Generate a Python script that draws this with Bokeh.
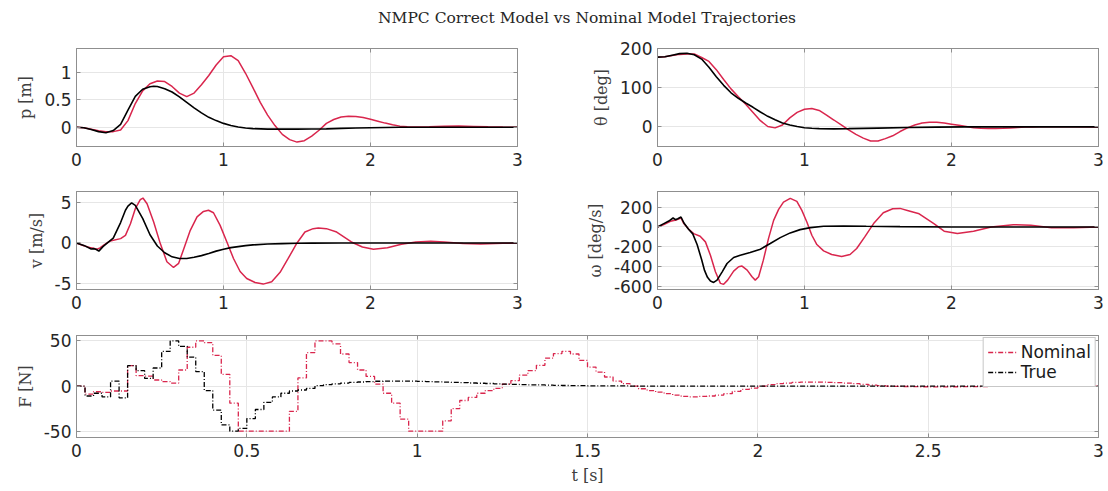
from bokeh.plotting import figure
from bokeh.models import Range1d, FixedTicker, NumeralTickFormatter, Div, LinearAxis, CustomJSTickFormatter
from bokeh.layouts import column, row
from bokeh.embed import file_html
from bokeh.resources import INLINE

RED = "#D9264D"
BLACK = "#000000"
GRAY = "#8f8f8f"
GRID = "#e6e6e6"

TITLE = "NMPC Correct Model vs Nominal Model Trajectories"

# ---- position p [m] ----
p_true_t = [0, 0.05, 0.1, 0.15, 0.2, 0.25, 0.3, 0.35, 0.4, 0.45, 0.5, 0.525, 0.55, 0.6, 0.65, 0.7, 0.75, 0.8,
            0.85, 0.9, 0.95, 1.0, 1.05, 1.1, 1.15, 1.2, 1.3, 1.4, 1.5, 1.6, 1.7, 1.8, 1.9, 2.0, 2.1, 2.2, 2.5, 3.0]
p_true = [0, -0.01, -0.04, -0.08, -0.1, -0.06, 0.05, 0.31, 0.56, 0.69, 0.735, 0.745, 0.74, 0.70, 0.64, 0.55,
          0.45, 0.35, 0.26, 0.18, 0.12, 0.07, 0.03, 0.005, -0.015, -0.025, -0.035, -0.035, -0.035, -0.033,
          -0.03, -0.02, -0.015, -0.01, -0.005, 0, 0, 0]
p_nom_t = [0, 0.05, 0.1, 0.15, 0.2, 0.25, 0.3, 0.35, 0.4, 0.45, 0.5, 0.55, 0.6, 0.65, 0.7, 0.75, 0.8, 0.85,
           0.9, 0.95, 1.0, 1.05, 1.1, 1.15, 1.2, 1.25, 1.3, 1.35, 1.4, 1.45, 1.5, 1.55, 1.6, 1.65, 1.7, 1.75,
           1.8, 1.85, 1.9, 1.95, 2.0, 2.05, 2.1, 2.15, 2.2, 2.25, 2.3, 2.4, 2.5, 2.6, 2.7, 2.8, 2.9, 3.0]
p_nom = [0, -0.01, -0.035, -0.065, -0.08, -0.08, -0.05, 0.12, 0.43, 0.66, 0.79, 0.84, 0.83, 0.74, 0.62,
         0.555, 0.62, 0.77, 0.94, 1.13, 1.28, 1.30, 1.21, 0.98, 0.72, 0.45, 0.22, 0.03, -0.13, -0.225, -0.27,
         -0.245, -0.16, -0.055, 0.07, 0.14, 0.185, 0.2, 0.195, 0.175, 0.145, 0.11, 0.075, 0.045, 0.02, 0.008,
         0.004, 0.01, 0.02, 0.022, 0.015, 0.007, 0.002, 0]

# ---- angle theta [deg] ----
th_true_t = [0, 0.05, 0.1, 0.15, 0.2, 0.25, 0.3, 0.35, 0.4, 0.45, 0.5, 0.55, 0.6, 0.65, 0.7, 0.75, 0.8, 0.85,
             0.9, 0.95, 1.0, 1.05, 1.1, 1.2, 1.3, 1.5, 1.7, 1.9, 2.1, 2.5, 3.0]
th_true = [178, 179, 183, 187, 188, 184, 173, 152, 128, 106, 87, 73, 61, 50, 38, 27, 18, 10, 5, 1, -2, -3.5,
           -4.5, -5, -4.5, -3, -1.5, -0.5, 0, 0, 0]
th_nom_t = [0, 0.05, 0.1, 0.15, 0.2, 0.25, 0.3, 0.35, 0.4, 0.45, 0.5, 0.55, 0.6, 0.65, 0.7, 0.75, 0.8, 0.85,
            0.9, 0.95, 1.0, 1.05, 1.1, 1.15, 1.2, 1.25, 1.3, 1.35, 1.4, 1.45, 1.5, 1.55, 1.6, 1.65, 1.7, 1.75,
            1.8, 1.85, 1.9, 1.95, 2.0, 2.05, 2.1, 2.15, 2.2, 2.25, 2.3, 2.35, 2.4, 2.45, 2.5, 2.55, 2.6, 2.7,
            2.8, 3.0]
th_nom = [178, 179, 182, 185, 186, 186, 177, 167, 146, 121, 97, 77, 58, 37, 16, 1, -2.5, 5, 23, 37, 45, 47,
          42, 30, 17.6, 5, -7.6, -19, -28.6, -36, -36, -30, -22.7, -11.8, -2.5, 5, 10, 12, 12, 10, 7, 4, 1,
          -2, -3.5, -4, -4, -3.5, -2.5, -1.5, -0.5, 0, 0.5, 0.5, 0.3, 0]

# ---- velocity v [m/s] ----
v_true_t = [0, 0.05, 0.1, 0.12, 0.135, 0.152, 0.18, 0.2, 0.25, 0.3, 0.333, 0.35, 0.375, 0.4, 0.45, 0.5, 0.55,
            0.6, 0.65, 0.7, 0.75, 0.8, 0.85, 0.9, 0.95, 1.0, 1.05, 1.1, 1.15, 1.2, 1.3, 1.4, 1.5, 1.6, 1.8,
            2.0, 3.0]
v_true = [0, -0.3, -0.75, -0.7, -0.8, -1.0, -0.45, -0.15, 0.6, 2.5, 4.0, 4.5, 4.9, 4.6, 3.0, 1.0, -0.37,
          -1.2, -1.7, -1.9, -1.9, -1.75, -1.55, -1.3, -1.0, -0.77, -0.57, -0.45, -0.33, -0.24, -0.12, -0.08,
          -0.04, -0.02, -0.01, 0, 0]
v_nom_t = [0, 0.05, 0.1, 0.14, 0.16, 0.19, 0.23, 0.3, 0.333, 0.367, 0.4, 0.434, 0.452, 0.48, 0.525, 0.57,
           0.615, 0.66, 0.695, 0.73, 0.774, 0.82, 0.864, 0.898, 0.932, 0.977, 1.023, 1.068, 1.113, 1.158,
           1.215, 1.27, 1.328, 1.385, 1.44, 1.5, 1.554, 1.61, 1.645, 1.7, 1.77, 1.87, 1.945, 2.02, 2.115,
           2.21, 2.31, 2.41, 2.5, 2.63, 2.75, 2.9, 3.0]
v_nom = [0, -0.35, -0.6, -0.77, -0.6, -0.2, 0.25, 0.53, 0.93, 2.36, 4.2, 5.3, 5.5, 4.8, 2.56, -0.08, -2.3,
         -3.0, -2.5, -0.7, 1.55, 3.2, 3.86, 4.0, 3.7, 2.15, 0.12, -1.9, -3.5, -4.35, -4.84, -5.04, -4.75, -3.6,
         -1.9, 0, 1.34, 1.75, 1.83, 1.75, 1.34, 0.12, -0.5, -0.77, -0.6, -0.16, 0.12, 0.2, 0.12, -0.08, -0.12,
         -0.05, 0]

# ---- angular rate omega [deg/s] ----
w_true_t = [0, 0.043, 0.077, 0.106, 0.122, 0.138, 0.16, 0.18, 0.21, 0.24, 0.27, 0.3, 0.32, 0.34, 0.36, 0.382,
            0.405, 0.44, 0.473, 0.518, 0.563, 0.63, 0.7, 0.767, 0.835, 0.903, 0.97, 1.04, 1.13, 1.265, 1.42,
            1.65, 2.0, 3.0]
w_true = [0, 34, 60, 91, 74, 84, 101, 40, -20, -70, -180, -330, -440, -510, -548, -561, -538, -454, -370,
          -309, -286, -259, -225, -168, -108, -60, -27, -7, 7, 10, 7, 3, 0, 0]
w_nom_t = [0, 0.043, 0.088, 0.133, 0.16, 0.179, 0.213, 0.246, 0.29, 0.326, 0.36, 0.394, 0.428, 0.45, 0.477,
           0.518, 0.552, 0.575, 0.61, 0.643, 0.665, 0.688, 0.72, 0.755, 0.79, 0.824, 0.857, 0.903, 0.948,
           0.982, 1.016, 1.05, 1.084, 1.13, 1.185, 1.253, 1.31, 1.355, 1.41, 1.47, 1.536, 1.6, 1.65, 1.706,
           1.78, 1.88, 1.95, 2.04, 2.15, 2.27, 2.42, 2.54, 2.68, 2.83, 3.0]
w_nom = [0, 24, 57, 74, 91, 34, -24, -67, -94, -151, -286, -454, -571, -581, -538, -447, -403, -396, -437,
         -504, -538, -504, -336, -118, 67, 178, 252, 289, 259, 168, 50, -84, -178, -242, -279, -299, -279,
         -218, -101, 34, 144, 185, 188, 165, 133, 33, -43, -67, -43, 0, 23, 17, -7, -7, 0]

# ---- input force F [N], zero-order hold, sample time 0.025 s ----
DT = 0.025
F_nom = [0, -9, -6.3, -7, -5.5, -5.5, 22.6, 11.5, 11, 6.7, 4.8, 3.3, 17.8, 43, 50, 48, 34, 13, -19, -50,
         -50, -50, -50, -50, -50, -28, 9, 37, 50, 50, 46.7, 35.5, 26, 17.8, 10.7, 2.2, -8, -19, -36.7, -50,
         -50, -50, -50, -38.5, -25, -16, -12.6, -8, -5, -2.6, 2.2, 6, 12, 17, 23, 31, 36, 38.5, 35.5, 28.5,
         21, 15.5, 10, 5.5, 2.6, 0, -3, -5, -6.7, -8.5, -10, -11.5, -12, -11.5, -11, -10, -8.5, -6, -3.7,
         -2.2, 0, 1.5, 2.6, 3.3, 4, 4.4, 4.4, 4.4, 4, 3.7, 3.3, 2.6, 1.8, 1, 0.5, 0, -0.3, -0.5, -0.7, -0.8,
         -0.9, -0.9, -0.9, -0.8, -0.7, -0.6, -0.5, -0.4, -0.3, -0.2, -0.1, 0, 0, 0, 0.1, 0.1, 0.1, 0.1, 0.1, 0]
F_true = [0, -11, -8, -12, 5.5, -13, 22.6, 17, 8.5, 20, 38.5, 50, 44, 32, 16, -5, -26.7, -43, -50, -47, -36,
          -26, -18, -12, -8, -5.5, -4.4, -2.6, 0.4, 1.5, 2.5, 3.3, 4.0, 4.5, 5.0, 5.3, 5.5, 5.5, 5.5, 5.4,
          5.2, 5.0, 4.7, 4.4, 4.1, 3.8, 3.4, 3.1, 2.8, 2.5, 2.2, 1.9, 1.6, 1.4, 1.2, 1.0, 0.8, 0.6, 0.5, 0.4,
          0.3, 0.2, 0.2, 0.1, 0.1] + [0] * 55
F_t = [k * DT for k in range(len(F_nom))] + [3.0]

TICK_FONT = "DejaVu Sans"
LABEL_FONT = "DejaVu Serif"


def mirror_axis(ticks):
    ax = LinearAxis(ticker=FixedTicker(ticks=ticks),
                    formatter=CustomJSTickFormatter(code="return ''"))
    ax.axis_line_color = GRAY
    ax.major_tick_line_color = GRAY
    ax.major_tick_in = 4
    ax.major_tick_out = 0
    ax.minor_tick_line_color = None
    ax.major_label_standoff = 0
    ax.major_label_text_font_size = "1px"
    return ax


def make_fig(width, height, mbl, mbr, mbt, mbb, yr, yticks, ylabel, xticks, xlabel=None):
    p = figure(width=width, height=height, x_range=Range1d(0, 3), y_range=Range1d(*yr),
               output_backend="svg", toolbar_location=None, title=None,
               min_border_left=mbl, min_border_right=mbr, min_border_top=mbt, min_border_bottom=mbb,
               background_fill_color="white", border_fill_color="white")
    p.outline_line_color = GRAY
    p.outline_line_width = 1
    for ax in (p.xaxis[0], p.yaxis[0]):
        ax.axis_line_color = GRAY
        ax.major_tick_line_color = GRAY
        ax.major_tick_in = 4
        ax.major_tick_out = 0
        ax.minor_tick_line_color = None
        ax.major_label_text_font = TICK_FONT
        ax.major_label_text_font_size = "17px"
        ax.major_label_text_color = "#262626"
        ax.axis_label_text_font = LABEL_FONT
        ax.axis_label_text_font_style = "normal"
        ax.axis_label_text_font_size = "16px"
        ax.axis_label_text_color = "#404040"
        ax.formatter = NumeralTickFormatter(format="0.[0]")
    p.xaxis[0].ticker = FixedTicker(ticks=xticks)
    p.yaxis[0].ticker = FixedTicker(ticks=yticks)
    p.xaxis[0].major_label_standoff = 6
    p.yaxis[0].major_label_standoff = 5
    p.yaxis[0].axis_label = ylabel
    p.yaxis[0].axis_label_standoff = 6
    if xlabel:
        p.xaxis[0].axis_label = xlabel
        p.xaxis[0].axis_label_standoff = 6
    p.add_layout(mirror_axis(yticks), "right")
    p.add_layout(mirror_axis(xticks), "above")
    p.xgrid[0].ticker = FixedTicker(ticks=xticks)
    p.ygrid[0].ticker = FixedTicker(ticks=yticks)
    p.xgrid[0].grid_line_color = GRID
    p.ygrid[0].grid_line_color = GRID
    return p


XT = [0, 1, 2, 3]

p1 = make_fig(567, 148, 76, 50, 10, 40, (-0.35, 1.43), [0, 0.5, 1], "p [m]", XT)
p1.line(p_nom_t, p_nom, line_color=RED, line_width=1.5)
p1.line(p_true_t, p_true, line_color=BLACK, line_width=1.6)

p2 = make_fig(541, 148, 90, 10, 10, 40, (-50, 200), [0, 100, 200], "θ [deg]", XT)
p2.line(th_nom_t, th_nom, line_color=RED, line_width=1.5)
p2.line(th_true_t, th_true, line_color=BLACK, line_width=1.6)

p3 = make_fig(567, 144, 76, 50, 5, 41, (-5.7, 6.3), [-5, 0, 5], "v [m/s]", XT)
p3.line(v_nom_t, v_nom, line_color=RED, line_width=1.5)
p3.line(v_true_t, v_true, line_color=BLACK, line_width=1.6)

p4 = make_fig(541, 144, 90, 10, 5, 41, (-633, 359), [-600, -400, -200, 0, 200], "ω [deg/s]", XT)
p4.line(w_nom_t, w_nom, line_color=RED, line_width=1.5)
p4.line(w_true_t, w_true, line_color=BLACK, line_width=1.6)

p5 = make_fig(1108, 161, 76, 10, 5, 54, (-57, 56), [-50, 0, 50], "F [N]",
              [0, 0.5, 1, 1.5, 2, 2.5, 3], xlabel="t [s]")
p5.step(F_t, F_nom + [F_nom[-1]], mode="after", line_color=RED, line_width=1.3, line_dash="5 2 1 2",
        legend_label="Nominal")
p5.step(F_t, F_true + [F_true[-1]], mode="after", line_color=BLACK, line_width=1.3, line_dash="5 2 1 2",
        legend_label="True")
lg = p5.legend[0]
lg.location = "top_right"
lg.margin = 2
lg.padding = 4
lg.spacing = 0
lg.glyph_width = 30
lg.glyph_height = 20
lg.label_standoff = 3
lg.label_height = 20
lg.label_text_font = TICK_FONT
lg.label_text_font_size = "17px"
lg.label_text_color = "#1a1a1a"
lg.border_line_color = GRAY
lg.border_line_width = 1
lg.background_fill_color = "white"
lg.background_fill_alpha = 1.0

title = Div(text=TITLE, width=1022, height=38, margin=(0, 0, 0, 76),
            styles={"font-family": "DejaVu Serif", "font-size": "15.5px", "text-align": "center",
                    "line-height": "36px", "color": "#262626"})

layout = column(title, row(p1, p2), row(p3, p4), p5)

open("out.html", "w").write(file_html(layout, INLINE))
